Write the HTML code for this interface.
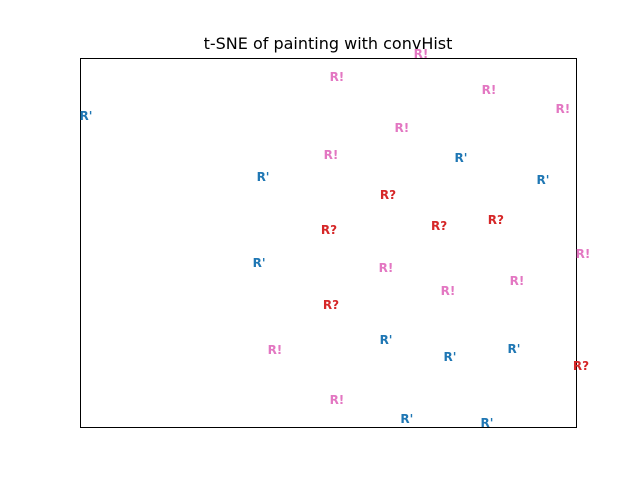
<!DOCTYPE html>
<html><head><meta charset="utf-8"><style>
html,body{margin:0;padding:0;background:#fff;}
svg text{font-family:"DejaVu Sans","Liberation Sans",sans-serif;}
</style></head><body>
<svg id="chart" width="640" height="480" xmlns="http://www.w3.org/2000/svg">
<rect width="640" height="480" fill="#fff"/>
<text x="328" y="49" text-anchor="middle" font-size="16" fill="#000">t-SNE of painting with convHist</text>
<rect x="80.5" y="58.5" width="496" height="369" fill="none" stroke="#000" stroke-width="1"/>
<g id="marks"></g>
</svg>
<script>
const labels = ["R!","R!","R!","R!","R!","R!","R!","R!","R!","R!","R!","R!",
 "R'","R'","R'","R'","R'","R'","R'","R'","R'","R'",
 "R?","R?","R?","R?","R?","R?"];
const xs = [3.75,0.36,6.49,9.47,2.98,0.12,2.34,4.84,7.62,10.28,-2.14,0.36,
 -9.76,5.36,-2.62,8.67,-2.78,2.34,4.92,7.5,3.18,6.41,
 2.42,0.04,4.48,6.77,0.12,10.2];
const ys = [10.22,8.97,8.27,7.24,6.21,4.74,-1.38,-2.63,-2.09,-0.62,-5.83,-8.54,
 6.86,4.58,3.55,3.39,-1.11,-5.28,-6.21,-5.77,-9.57,-9.78,
 2.57,0.68,0.89,1.22,-3.39,-6.69];
const colorMap = {"R!":"#e377c2","R'":"#1f77b4","R?":"#d62728"};
function xScale(v){return 80 + (v + 10) / 20 * 496;}
function yScale(v){return 58 + (10 - v) / 20 * 369;}
const g = document.getElementById('marks');
for (let i = 0; i < labels.length; i++) {
  const t = document.createElementNS('http://www.w3.org/2000/svg','text');
  t.setAttribute('x', xScale(xs[i]));
  t.setAttribute('y', yScale(ys[i]) + 4);
  t.setAttribute('text-anchor','middle');
  t.setAttribute('font-size','12');
  t.setAttribute('font-weight','bold');
  t.setAttribute('fill', colorMap[labels[i]]);
  t.textContent = labels[i];
  
  
  g.appendChild(t);
}
</script>
</body></html>
